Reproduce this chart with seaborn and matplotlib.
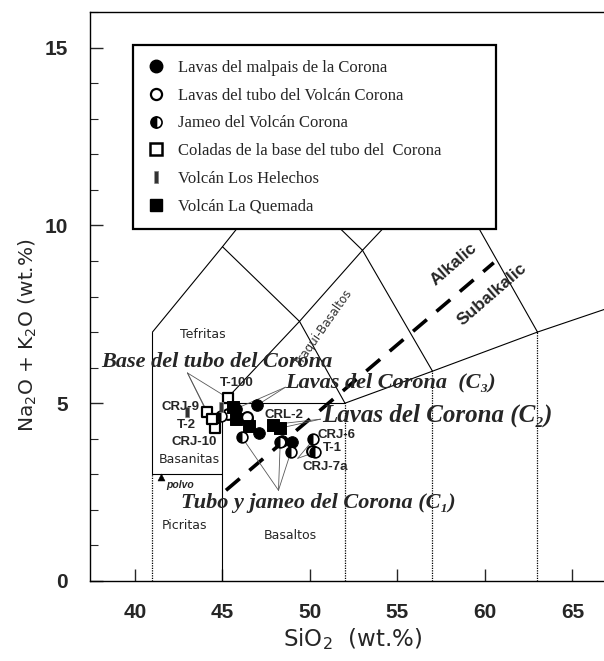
import matplotlib
matplotlib.use("Agg")
import matplotlib.pyplot as plt
import seaborn as sns
import pandas as pd
from matplotlib.lines import Line2D
from matplotlib.markers import MarkerStyle

# SiO2 (wt.%) and Na2O + K2O (wt.%)
malpais_x = [45.8, 47.0, 46.4, 47.1, 48.4, 49.0]
malpais_y = [4.85, 4.95, 4.55, 4.15, 3.95, 3.92]
tubo_x = [45.3, 46.4, 50.1]
tubo_y = [4.7, 4.6, 3.65]
jameo_x = [44.9, 46.1, 48.3, 48.9, 50.2, 50.3]
jameo_y = [4.65, 4.05, 3.9, 3.62, 3.98, 3.62]
base_x = [44.1, 44.6, 45.3, 44.4]
base_y = [4.75, 4.3, 5.15, 4.55]
helechos_x = [42.95, 44.9]
helechos_y = [4.75, 4.9]
quemada_x = [45.6, 45.8, 46.5, 47.9, 48.3]
quemada_y = [4.9, 4.55, 4.35, 4.4, 4.3]
polvo_x = [41.5]
polvo_y = [2.93]

legend_labels = ["Lavas del malpais de la Corona",
                 "Lavas del tubo del Volcán Corona",
                 "Jameo del Volcán Corona",
                 "Coladas de la base del tubo del  Corona",
                 "Volcán Los Helechos",
                 "Volcán La Quemada"]

# TAS field boundaries (Le Bas et al.)
tas_solid = [((41, 3), (41, 7)), ((41, 7), (45, 9.4)), ((45, 9.4), (49.4, 7.3)),
             ((45, 5), (49.4, 7.3)), ((49.4, 7.3), (52, 5)), ((45, 0), (45, 5)),
             ((41, 3), (45, 3)), ((45, 5), (52, 5)), ((52, 5), (57, 5.9)),
             ((57, 5.9), (63, 7)), ((63, 7), (69, 8)), ((49.4, 7.3), (53, 9.3)),
             ((53, 9.3), (57, 5.9)), ((53, 9.3), (57.6, 11.7)), ((57.6, 11.7), (63, 7)),
             ((45, 9.4), (48.4, 11.5)), ((48.4, 11.5), (53, 9.3)),
             ((48.4, 11.5), (52.5, 14)), ((52.5, 14), (57.6, 11.7))]
tas_dotted = [((41, 0), (41, 3)), ((52, 0), (52, 5)), ((57, 0), (57, 5.9)), ((63, 0), (63, 7))]
alk_x = [45.2, 60.5]
alk_y = [2.55, 8.95]

sns.set_style("ticks")
plt.rcParams['font.family'] = ['Liberation Sans', 'DejaVu Sans']

fig = plt.figure(figsize=(6.04, 6.61), dpi=100)
ax = fig.add_axes([90 / 604, 80 / 661, 514 / 604, 569 / 661])

for (x0, y0), (x1, y1) in tas_solid:
    ax.plot([x0, x1], [y0, y1], color='black', lw=0.8, zorder=1)
for (x0, y0), (x1, y1) in tas_dotted:
    ax.plot([x0, x1], [y0, y1], color='black', lw=0.9, ls=(0, (1, 1)), zorder=1)
ax.plot(alk_x, alk_y, color='black', lw=2.6, ls=(0, (5, 3.5)), zorder=1)

serif = ['Liberation Serif', 'DejaVu Serif']
wide = ['DejaVu Sans']


def leaders(src, xs, ys):
    for x, y in zip(xs, ys):
        ax.annotate("", xy=(x, y), xytext=src,
                    arrowprops=dict(arrowstyle='-', lw=0.6, color='0.35',
                                    shrinkA=0, shrinkB=4), zorder=2)


leaders((43.0, 5.85), base_x[:3], base_y[:3])
leaders((48.6, 5.45), malpais_x[:2], malpais_y[:2])
leaders((50.6, 4.55), quemada_x[3:], quemada_y[3:])
leaders((48.2, 2.55), jameo_x[1:4], jameo_y[1:4])
leaders((49.3, 3.45), jameo_x[4:], jameo_y[4:])

# data points
df = lambda xs, ys: pd.DataFrame({"x": xs, "y": ys})
sns.scatterplot(data=df(malpais_x, malpais_y), x="x", y="y", ax=ax, marker='o', s=70,
                color='black', edgecolor='black', zorder=3)
sns.scatterplot(data=df(tubo_x, tubo_y), x="x", y="y", ax=ax, marker='o', s=60,
                facecolor='white', edgecolor='black', linewidth=1.5, zorder=3)
sns.scatterplot(data=df(jameo_x, jameo_y), x="x", y="y", ax=ax, marker='o', s=60,
                facecolor='white', edgecolor='black', linewidth=1.2, zorder=3)
sns.scatterplot(data=df(jameo_x, jameo_y), x="x", y="y", ax=ax,
                marker=MarkerStyle('o', fillstyle='left'), s=60,
                color='black', linewidth=0, zorder=3)
sns.scatterplot(data=df(base_x, base_y), x="x", y="y", ax=ax, marker='s', s=55,
                facecolor='white', edgecolor='black', linewidth=1.6, zorder=3)
sns.scatterplot(data=df(helechos_x, helechos_y), x="x", y="y", ax=ax,
                marker=[(-0.35, -1), (0.35, -1), (0.35, 1), (-0.35, 1)], s=60,
                color='0.2', edgecolor='0.5', linewidth=0.6, zorder=3)
sns.scatterplot(data=df(quemada_x, quemada_y), x="x", y="y", ax=ax, marker='s', s=75,
                color='black', edgecolor='black', zorder=3)
sns.scatterplot(data=df(polvo_x, polvo_y), x="x", y="y", ax=ax, marker='^', s=25,
                color='black', edgecolor='black', zorder=3)

# field names
ax.text(43.9, 6.92, "Tefritas", fontsize=9, family=wide, ha='center', va='center')
ax.text(43.1, 3.43, "Basanitas", fontsize=9, family=wide, ha='center', va='center')
ax.text(42.85, 1.57, "Picritas", fontsize=9, family=wide, ha='center', va='center')
ax.text(48.85, 1.29, "Basaltos", fontsize=9, family=wide, ha='center', va='center')
ax.text(42.6, 2.7, "polvo", fontsize=7.5, ha='center', va='center',
        style='italic', weight='bold')
ax.text(50.8, 7.1, "Traqui-Basaltos", fontsize=8.5, family=wide, ha='center',
        va='center', rotation=55, color='0.2')
ax.text(58.2, 8.9, "Alkalic", fontsize=12.5, weight='bold', ha='center', va='center',
        rotation=41)
ax.text(60.4, 8.05, "Subalkalic", fontsize=12.5, weight='bold', ha='center', va='center',
        rotation=41)

# sample labels
for tx, ty, s in [(42.6, 4.9, "CRJ-9"), (42.95, 4.39, "T-2"), (43.4, 3.92, "CRJ-10"),
                  (45.8, 5.56, "T-100"), (48.5, 4.67, "CRL-2"), (51.5, 4.1, "CRJ-6"),
                  (51.3, 3.74, "T-1"), (50.9, 3.2, "CRJ-7a")]:
    ax.text(tx, ty, s, fontsize=9.5, weight='bold', ha='center', va='center', zorder=4)

# group labels
ax.text(44.66, 6.17, "Base del tubo del Corona", fontsize=16, family=serif,
        weight='bold', style='italic', ha='center', va='center', zorder=4)
ax.text(54.6, 5.57, "Lavas del Corona  (C₃)", fontsize=16, family=serif,
        weight='bold', style='italic', ha='center', va='center', zorder=4)
ax.text(57.26, 4.67, "Lavas del Corona (C₂)", fontsize=18, family=serif,
        weight='bold', style='italic', ha='center', va='center', zorder=4)
ax.text(50.5, 2.19, "Tubo y jameo del Corona (C₁)", fontsize=16, family=serif,
        weight='bold', style='italic', ha='center', va='center', zorder=4)

# legend
handles = [
    Line2D([], [], ls='', marker='o', ms=9, mfc='black', mec='black'),
    Line2D([], [], ls='', marker='o', ms=8, mfc='white', mec='black', mew=1.6),
    Line2D([], [], ls='', marker='o', ms=8, fillstyle='left', mfc='black',
           markerfacecoloralt='white', mec='black', mew=1.2),
    Line2D([], [], ls='', marker='s', ms=8, mfc='white', mec='black', mew=1.8),
    Line2D([], [], ls='', marker=[(-0.35, -1), (0.35, -1), (0.35, 1), (-0.35, 1)],
           ms=9, mfc='0.2', mec='0.5', mew=0.6),
    Line2D([], [], ls='', marker='s', ms=8, mfc='black', mec='black'),
]
leg = ax.legend(handles, legend_labels, loc='upper left',
                bbox_to_anchor=(0.0837, 0.619, 0.706, 0.323), mode='expand',
                prop={'family': serif, 'size': 12}, frameon=True, fancybox=False,
                framealpha=1, facecolor='white',
                borderpad=0.9, labelspacing=0.7, handlelength=1.0,
                handletextpad=0.8, borderaxespad=0)
leg.get_frame().set_edgecolor('black')
leg.get_frame().set_linewidth(1.6)
leg.set_zorder(6)

ax.set_xlim(37.43, 66.8)
ax.set_ylim(0, 16)
ax.set_xticks([40, 45, 50, 55, 60, 65])
ax.set_yticks([0, 5, 10, 15])
ax.set_yticks(range(0, 17), minor=True)
ax.tick_params(axis='both', which='major', direction='in', length=9, width=1,
               labelsize=15, pad=16)
ax.tick_params(axis='y', which='minor', direction='in', length=6, width=0.8)
for lab in ax.get_xticklabels() + ax.get_yticklabels():
    lab.set_fontweight('bold')
for side in ['left', 'bottom', 'top']:
    ax.spines[side].set_color('black')
    ax.spines[side].set_linewidth(1.0)
ax.spines['right'].set_visible(False)

ax.set_xlabel("SiO$_2$  (wt.%)", fontsize=16.5, family=wide)
ax.set_ylabel("Na$_2$O + K$_2$O (wt.%)", fontsize=14.5, family=wide)
ax.xaxis.set_label_coords(0.51, -0.08)
ax.yaxis.set_label_coords(-0.10, 0.432)

fig.savefig("out.png", dpi=100)
